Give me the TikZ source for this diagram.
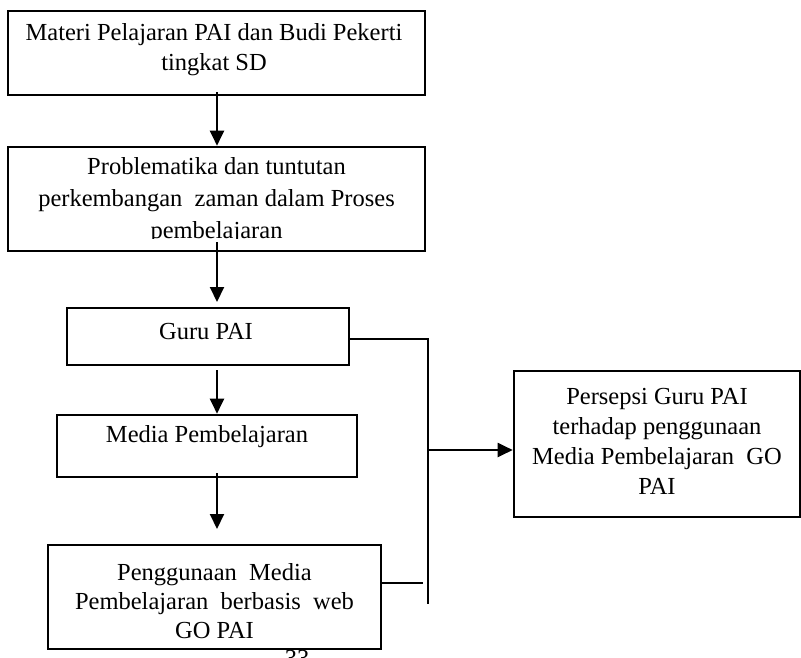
\documentclass[tikz,border=0pt]{standalone}
\usepackage{fontspec}
\setmainfont{Liberation Serif}
\usetikzlibrary{arrows.meta}
\begin{document}
\begin{tikzpicture}[x=1pt,y=-1pt,
  box/.style={draw=black,line width=2.6pt,inner sep=0pt,minimum width=#1},
  txt/.style={inner sep=0pt,align=center,font=\fontsize{24.5}{30}\selectfont},
  conn/.style={line width=2pt},
  arr/.style={line width=2pt,-{Triangle[length=15pt,width=14pt]}}]
\useasboundingbox (0,0) rectangle (801,657);
% boxes
\node[box=417pt,minimum height=84pt] (b1) at (216.5,53) {};
\node[txt] (t1) at (214,50) {Materi Pelajaran PAI dan Budi Pekerti\\tingkat SD};
\node[box=417pt,minimum height=104pt] (b2) at (216.5,199) {};
\begin{scope}
\clip (10,149) rectangle (423,238);
\node[txt,font=\fontsize{24.5}{32}\selectfont] (t2) at (216.5,201) {Problematika dan tuntutan\\perkembangan\ \ zaman dalam Proses\\pembelajaran};
\end{scope}
\node[box=282pt,minimum height=57pt] (b3) at (208,336.5) {};
\node[txt] (t3) at (206,332) {Guru PAI};
\node[box=300pt,minimum height=62pt] (b4) at (207,446) {};
\node[txt] (t4) at (207,437) {Media Pembelajaran};
\node[box=333pt,minimum height=104pt] (b5) at (214.5,597) {};
\node[txt,font=\fontsize{24.5}{29}\selectfont] (t5) at (214.5,601) {Penggunaan\ \ Media\\Pembelajaran\ \ berbasis\ \ web\\GO PAI};
\node[box=286pt,minimum height=146pt] (b6) at (657,444) {};
\node[txt] (t6) at (657,441) {Persepsi Guru PAI\\terhadap penggunaan\\Media Pembelajaran\ \ GO\\PAI};
\node[inner sep=0pt,anchor=north,font=\fontsize{24.5}{30}\selectfont] (pg) at (297,650) {33};
% connector points
\coordinate (a1s) at (217,92);
\coordinate (a2s) at (217,242);
\coordinate (a3s) at (217,370);
\coordinate (a4s) at (217,473);
\coordinate (vtop) at (428,340);
\coordinate (vbot) at (428,604);
\coordinate (vmid) at (428,450);
\coordinate (b5e) at (423,583);
% arrows
\draw[arr] (a1s) -- (a1s |- b2.north);
\draw[arr] (a2s) -- (217,302);
\draw[arr] (a3s) -- (a3s |- b4.north);
\draw[arr] (a4s) -- (217,529);
\draw[conn] (b3.east |- 0,339) -- (vtop |- 0,339) -- (vbot);
\draw[conn] (b5.east |- b5e) -- (b5e);
\draw[arr] (vmid) -- (b6.west |- vmid);
\end{tikzpicture}
\end{document}
